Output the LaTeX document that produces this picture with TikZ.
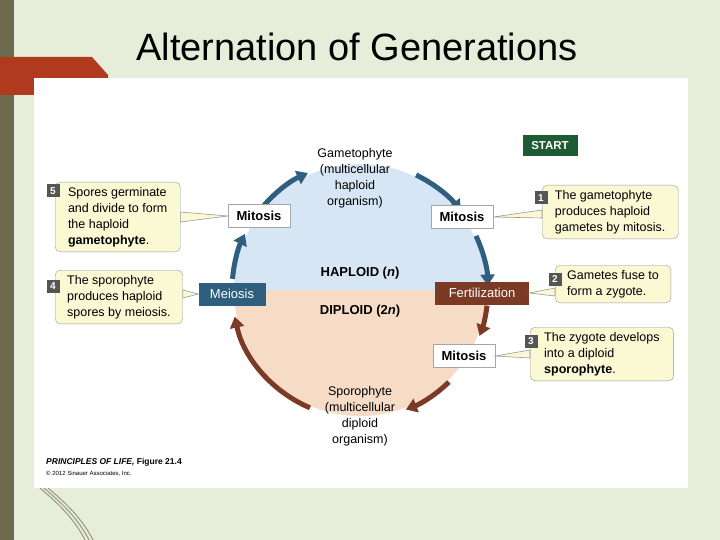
\documentclass[tikz,border=0pt]{standalone}
\usepackage{fontspec}
\setmainfont{Liberation Sans}
\usetikzlibrary{arrows.meta}
\definecolor{bgg}{HTML}{E6EDD9}
\definecolor{olive}{HTML}{6E6A4C}
\definecolor{redtab}{HTML}{B03A1E}
\definecolor{blu}{HTML}{2F5F7E}
\definecolor{brn}{HTML}{7B3A26}
\definecolor{hap}{HTML}{D7E6F4}
\definecolor{dip}{HTML}{F6DCC6}
\definecolor{call}{HTML}{FBF8D4}
\definecolor{stg}{HTML}{1E5A33}
\definecolor{badge}{HTML}{555555}
\tikzset{
  lbl/.style={draw=gray!70, fill=white, font=\bfseries\fontsize{13}{14}\selectfont, minimum width=62, minimum height=23, inner sep=1},
  clbl/.style={lbl, draw=none, text=white, font=\fontsize{13}{14}\selectfont},
  callout/.style={draw=gray!80, fill=call, rounded corners=5, align=left, font=\fontsize{12.5}{16}\selectfont, inner xsep=10, inner ysep=5},
  num/.style={fill=badge, text=white, font=\bfseries\fontsize{10}{10}\selectfont, minimum size=13, inner sep=0},
  barr/.style={blu, line width=5, -{Triangle[length=11,width=14]}},
  rarr/.style={brn, line width=5, -{Triangle[length=11,width=14]}},
  ptr/.style={draw=gray!80, fill=call, line width=0.6},
  body/.style={font=\fontsize{12.5}{16}\selectfont, align=center}
}
\begin{document}
\begin{tikzpicture}[x=1pt,y=-1pt]
\useasboundingbox (0,0) rectangle (720,540);
\fill[bgg] (0,0) rectangle (720,540);
\fill[olive] (0,0) rectangle (14,540);
\fill[redtab] (0,57) -- (92,57) -- (108,75) -- (108,95) -- (0,95) -- cycle;
\foreach \dx in {0,4,8}{\draw[olive!70, line width=1] (40+\dx,488) .. controls (60+\dx,505) and (75+\dx,520) .. (85+\dx,540);}
\fill[white] (34,78) rectangle (688,488);
\node[font=\fontsize{38}{38}\selectfont] (title) at (357,47) {Alternation of Generations};

% circle
\begin{scope}
\clip (360,290) circle (126);
\fill[hap] (220,150) rectangle (500,290);
\fill[dip] (220,290) rectangle (500,430);
\end{scope}

% labels
\node[body] (gam) at (355,178) {Gametophyte\\(multicellular\\haploid\\organism)};
\node[body] (spo) at (360,416) {Sporophyte\\(multicellular\\diploid\\organism)};
\node[font=\bfseries\fontsize{13}{14}\selectfont] (hapl) at (360,273) {HAPLOID (\textit{n})};
\node[font=\bfseries\fontsize{13}{14}\selectfont] (dipl) at (360,311) {DIPLOID (2\textit{n})};

% arrows
\draw[barr] (360,290) ++(185:128) arc (185:206:128) coordinate (e1);
\draw[barr] (360,290) ++(218:128) arc (218:246:128) coordinate (e2);
\draw[barr] (360,290) ++(296:128) arc (296:322:128) coordinate (e3);
\draw[barr] (360,290) ++(335:128) arc (335:358:128) coordinate (e4);
\draw[rarr] (360,290) ++(7:128) arc (7:21:128) coordinate (e5);
\draw[rarr] (360,290) ++(46:128) arc (46:69:128) coordinate (e6);
\draw[rarr] (360,290) ++(113:128) arc (113:168:128) coordinate (e7);

\node[lbl] (mit1) at (259,216) {Mitosis};
\node[lbl] (mit2) at (462,217) {Mitosis};
\node[lbl] (mit3) at (464,356) {Mitosis};
\node[clbl, fill=blu, minimum width=67] (mei) at (232,294) {Meiosis};
\node[clbl, fill=brn, minimum width=94] (fer) at (482,293) {Fertilization};

\node[fill=stg, text=white, font=\bfseries\fontsize{11.5}{12}\selectfont, minimum width=55, minimum height=21, inner sep=1] (start) at (550,146) {START};

% callouts
\node[callout, anchor=north west, minimum width=125, inner xsep=12] (c5) at (55,182) {Spores germinate\\and divide to form\\the haploid\\\textbf{gametophyte}.};
\node[callout, anchor=north west, minimum width=125, inner xsep=12] (c4) at (55,270) {The sporophyte\\produces haploid\\spores by meiosis.};
\node[callout, anchor=north west, minimum width=136, inner xsep=12] (c1) at (542,185) {The gametophyte\\produces haploid\\gametes by mitosis.};
\node[callout, anchor=north west, minimum width=115, inner xsep=12] (c2) at (555,265) {Gametes fuse to\\form a zygote.};
\node[callout, anchor=north west, minimum width=142, inner xsep=14] (c3) at (530,327) {The zygote develops\\into a diploid\\\textbf{sporophyte}.};

\node[num] (n5) at (53,191) {5};
\node[num] (n4) at (53,286) {4};
\node[num] (n1) at (541,198) {1};
\node[num] (n2) at (555,279) {2};
\node[num] (n3) at (531,341) {3};

% pointers
\draw[ptr] (mit1.west) -- (c5.east |- 0,212) -- (c5.east |- 0,222) -- cycle;
\draw[ptr] (mei.west) -- (c4.east |- 0,290) -- (c4.east |- 0,298) -- cycle;
\draw[ptr] (mit2.east) -- (c1.west |- 0,210) -- (c1.west |- 0,218) -- cycle;
\draw[ptr] (fer.east) -- (c2.west |- 0,288) -- (c2.west |- 0,296) -- cycle;
\draw[ptr] (mit3.east) -- (c3.west |- 0,350) -- (c3.west |- 0,358) -- cycle;

\node[anchor=west, font=\bfseries\itshape\fontsize{8.5}{9}\selectfont, inner sep=0] (foot1) at (46,462) {PRINCIPLES OF LIFE, \upshape Figure 21.4};
\node[anchor=west, font=\fontsize{6}{7}\selectfont, inner sep=0] (foot2) at (46,474) {© 2012 Sinauer Associates, Inc.};
\end{tikzpicture}
\end{document}
